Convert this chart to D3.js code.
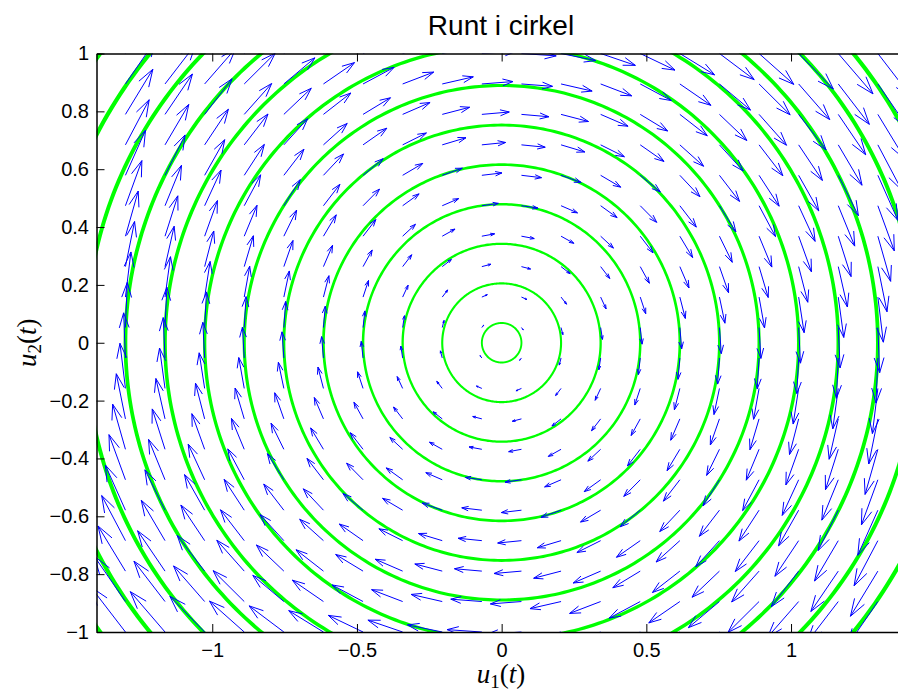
<!DOCTYPE html>
<html>
<head>
<meta charset="utf-8">
<script src="https://d3js.org/d3.v7.min.js"></script>
<style>
  body{ margin:0; background:#fff; }
  text{ font-family:"Liberation Sans", Arial, sans-serif; }
  .lab{ font-family:"Liberation Serif", "DejaVu Serif", serif; font-size:27px; }
</style>
</head>
<body>
<svg id="fig" width="898" height="692"></svg>
<script>
// quiver grid (tails of arrows)
var xGrid = [-1.3, -1.1632, -1.0263, -0.8895, -0.7526, -0.6158, -0.4789, -0.3421, -0.2053, -0.0684,
             0.0684, 0.2053, 0.3421, 0.4789, 0.6158, 0.7526, 0.8895, 1.0263, 1.1632, 1.3];
var yGrid = [-1, -0.8947, -0.7895, -0.6842, -0.5789, -0.4737, -0.3684, -0.2632, -0.1579, -0.0526,
             0.0526, 0.1579, 0.2632, 0.3684, 0.4737, 0.5789, 0.6842, 0.7895, 0.8947, 1];
// radii of the solution circles
var radii = [0.0684, 0.2053, 0.3421, 0.4789, 0.6158, 0.7526, 0.8895, 1.0263, 1.1632, 1.3, 1.4368, 1.5737, 1.7105];
var xTicks = [-1, -0.5, 0, 0.5, 1];
var yTicks = [-1, -0.8, -0.6, -0.4, -0.2, 0, 0.2, 0.4, 0.6, 0.8, 1];
var arrowScale = 0.12;
var alpha = 0.33, beta = 0.33;

var svg = d3.select("#fig");
var x = d3.scaleLinear().domain([-1.4, 1.4]).range([96.5, 906.8]);
var y = d3.scaleLinear().domain([-1, 1]).range([632, 53.5]);

svg.append("defs").append("clipPath").attr("id","clip")
  .append("rect").attr("x",x(-1.4)).attr("y",y(1)).attr("width",x(1.4)-x(-1.4)).attr("height",y(-1)-y(1));

var plot = svg.append("g").attr("clip-path","url(#clip)");

// circles
var line = d3.line().x(function(d){return x(d[0]);}).y(function(d){return y(d[1]);});
radii.forEach(function(r){
  var pts = d3.range(0, 361).map(function(a){
    var t = a*Math.PI/180; return [r*Math.cos(t), r*Math.sin(t)];
  });
  plot.append("path").attr("d", line(pts)).attr("fill","none")
    .attr("stroke","#00ff00").attr("stroke-width", 1.8 + 1.5*r);
});

// quiver: du1/dt = u2, du2/dt = -u1
var arrows = [];
xGrid.forEach(function(px){
  yGrid.forEach(function(py){
    var u = py*arrowScale, v = -px*arrowScale;
    arrows.push({x:px, y:py, u:u, v:v});
  });
});
var ag = plot.append("g").attr("stroke","#0000ff").attr("stroke-width",1).attr("fill","none");
arrows.forEach(function(a){
  var tx = a.x + a.u, ty = a.y + a.v;
  ag.append("path").attr("d", line([[a.x,a.y],[tx,ty]]));
  ag.append("path").attr("d", line([
    [tx - alpha*(a.u + beta*a.v), ty - alpha*(a.v - beta*a.u)],
    [tx, ty],
    [tx - alpha*(a.u - beta*a.v), ty - alpha*(a.v + beta*a.u)]
  ]));
});

// axes
function fmt(d){ return (d < 0 ? "\u2212" : "") + Math.abs(d); }
var axB = svg.append("g").attr("transform","translate(0,"+y(-1)+")")
  .call(d3.axisBottom(x).tickValues(xTicks).tickFormat(fmt).tickSizeInner(-8).tickSizeOuter(0).tickPadding(11));
var axT = svg.append("g").attr("transform","translate(0,"+y(1)+")")
  .call(d3.axisTop(x).tickValues(xTicks).tickFormat("").tickSizeInner(-8).tickSizeOuter(0));
var axL = svg.append("g").attr("transform","translate("+x(-1.4)+",0)")
  .call(d3.axisLeft(y).tickValues(yTicks).tickFormat(fmt).tickSizeInner(-8).tickSizeOuter(0).tickPadding(7.5));
var axR = svg.append("g").attr("transform","translate("+x(1.4)+",0)")
  .call(d3.axisRight(y).tickValues(yTicks).tickFormat("").tickSizeInner(-8).tickSizeOuter(0));
[axB, axT, axL, axR].forEach(function(g){
  g.selectAll("path.domain").attr("stroke","#000").attr("stroke-width",1.5);
  g.selectAll(".tick line").attr("stroke","#000").attr("stroke-width",1);
  g.selectAll("text").attr("font-size","20px").attr("fill","#000")
    .attr("font-family","Liberation Sans, Arial, sans-serif");
});

// title
svg.append("text").attr("x",501).attr("y",35).attr("text-anchor","middle")
  .attr("font-size","28px").attr("fill","#000").text("Runt i cirkel");

// axis labels
function mathLabel(sel, sub){
  sel.append("tspan").attr("font-style","italic").text("u");
  sel.append("tspan").attr("font-size","19px").attr("dy",5).text(sub);
  sel.append("tspan").attr("dy",-5).text("(");
  sel.append("tspan").attr("font-style","italic").text("t");
  sel.append("tspan").text(")");
}
var xl = svg.append("text").attr("class","lab").attr("x",501).attr("y",683).attr("text-anchor","middle");
mathLabel(xl, "1");
var yl = svg.append("text").attr("class","lab").attr("text-anchor","middle")
  .attr("transform","translate(36,"+y(0)+") rotate(-90)");
mathLabel(yl, "2");
</script>
</body>
</html>
